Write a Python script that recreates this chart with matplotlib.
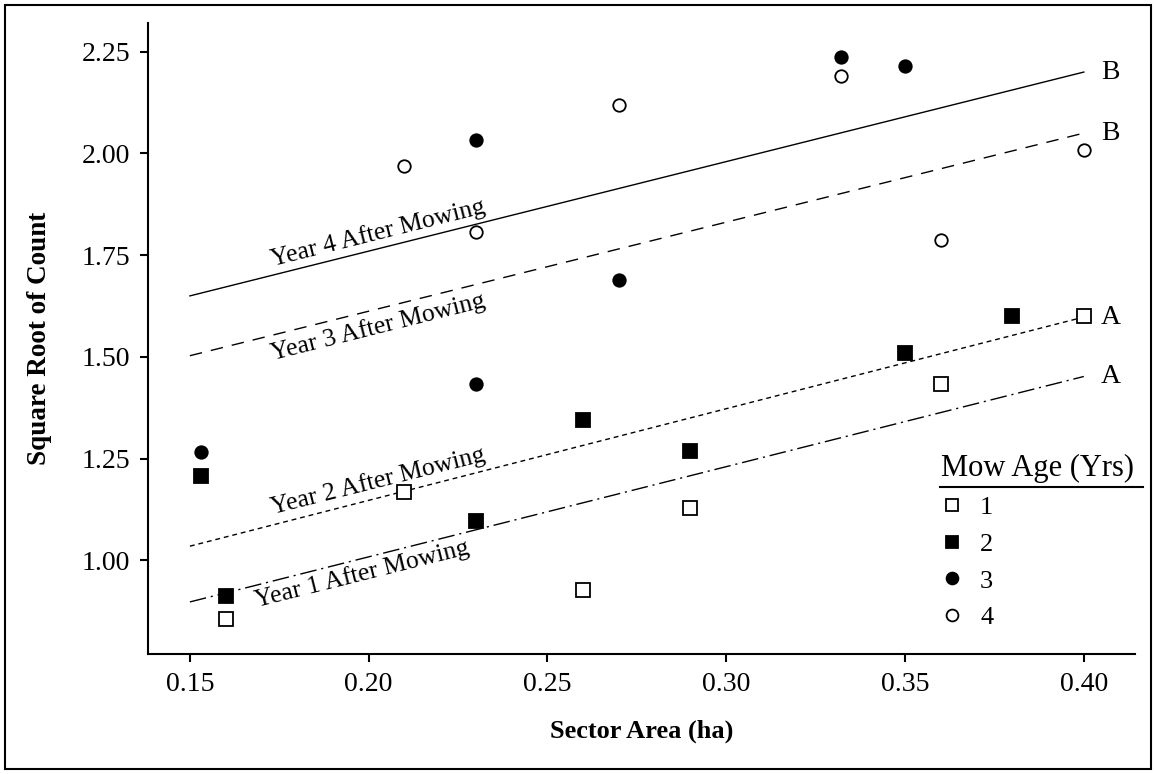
import numpy as np
import matplotlib
matplotlib.use("Agg")
import matplotlib.pyplot as plt
from matplotlib.patches import Rectangle
from matplotlib.lines import Line2D

plt.rcParams['font.family'] = ['Liberation Serif', 'DejaVu Serif']

# data (sector area in ha, sqrt of count)
age1_x = [0.16, 0.21, 0.26, 0.29, 0.36, 0.40]
age1_y = [0.855, 1.168, 0.927, 1.129, 1.434, 1.600]
age2_x = [0.153, 0.16, 0.23, 0.26, 0.29, 0.35, 0.38]
age2_y = [1.208, 0.913, 1.098, 1.345, 1.270, 1.510, 1.600]
age3_x = [0.153, 0.23, 0.23, 0.27, 0.332, 0.35]
age3_y = [1.266, 1.433, 2.033, 1.688, 2.236, 2.215]
age4_x = [0.21, 0.23, 0.27, 0.332, 0.36, 0.40]
age4_y = [1.969, 1.807, 2.118, 2.190, 1.788, 2.008]

# fitted lines (start at 0.15, end at 0.40)
fit_x = [0.15, 0.40]
fit_y4 = [1.650, 2.200]
fit_y3 = [1.503, 2.050]
fit_y2 = [1.035, 1.598]
fit_y1 = [0.898, 1.452]
groups = ['B', 'B', 'A', 'A']
legend_labels = ['1', '2', '3', '4']

fig = plt.figure(figsize=(11.54, 7.74), dpi=100)
ax = fig.add_axes([0.1283, 0.155, 0.8552, 0.815])
ax.set_xlim(0.1383, 0.4143)
ax.set_ylim(0.770, 2.320)

lw = 1.0
ax.plot(fit_x, fit_y4, color='black', lw=lw, linestyle='-')
ax.plot(fit_x, fit_y3, color='black', lw=lw, linestyle=(0, (9, 6.5)))
ax.plot(fit_x, fit_y2, color='black', lw=lw, linestyle=(0, (3.5, 2.8)))
ax.plot(fit_x, fit_y1, color='black', lw=lw, linestyle=(0, (12, 3.5, 1.5, 3.5)))

ms_sq = 9.5
ms_ci = 9
mew = 1.3
ax.plot(age1_x, age1_y, 's', ms=ms_sq, mfc='white', mec='black', mew=mew, zorder=3)
ax.plot(age2_x, age2_y, 's', ms=ms_sq, mfc='black', mec='black', mew=mew, zorder=3)
ax.plot(age3_x, age3_y, 'o', ms=ms_ci, mfc='black', mec='black', mew=mew, zorder=3)
ax.plot(age4_x, age4_y, 'o', ms=ms_ci, mfc='white', mec='black', mew=mew, zorder=3)

# rotation of the fitted lines in screen space
fig.canvas.draw()
p0 = ax.transData.transform((fit_x[0], fit_y4[0]))
p1 = ax.transData.transform((fit_x[1], fit_y4[1]))
ang = np.degrees(np.arctan2(p1[1] - p0[1], p1[0] - p0[0]))

line_labels = [('Year 4 After Mowing', 0.2026, 1.805),
               ('Year 3 After Mowing', 0.2026, 1.574),
               ('Year 2 After Mowing', 0.2026, 1.195),
               ('Year 1 After Mowing', 0.1980, 0.966)]
for txt, tx, ty in line_labels:
    ax.text(tx, ty, txt, rotation=ang, rotation_mode='anchor',
            ha='center', va='center', fontsize=18.5)

for g, yend in zip(groups, [fit_y4[1], fit_y3[1], fit_y2[1], fit_y1[1]]):
    ax.text(0.4048, yend, g, ha='left', va='center', fontsize=20)

ax.set_xticks([0.15, 0.20, 0.25, 0.30, 0.35, 0.40])
ax.set_xticklabels(['0.15', '0.20', '0.25', '0.30', '0.35', '0.40'])
ax.set_yticks([1.00, 1.25, 1.50, 1.75, 2.00, 2.25])
ax.set_yticklabels(['1.00', '1.25', '1.50', '1.75', '2.00', '2.25'])
ax.tick_params(direction='out', length=6, width=1.5, labelsize=20, pad=7)
ax.spines['top'].set_visible(False)
ax.spines['right'].set_visible(False)
ax.spines['left'].set_linewidth(1.5)
ax.spines['bottom'].set_linewidth(1.5)

ax.set_xlabel('Sector Area (ha)', fontsize=19, fontweight='bold', labelpad=16)
ax.set_ylabel('Square Root of Count', fontsize=19.5, fontweight='bold', labelpad=21)

handles = [
    Line2D([], [], marker='s', ls='none', ms=8.5, mfc='white', mec='black', mew=1.3),
    Line2D([], [], marker='s', ls='none', ms=8.5, mfc='black', mec='black', mew=1.3),
    Line2D([], [], marker='o', ls='none', ms=8.5, mfc='black', mec='black', mew=1.3),
    Line2D([], [], marker='o', ls='none', ms=8.5, mfc='white', mec='black', mew=1.3),
]
leg = ax.legend(handles, legend_labels, title='Mow Age (Yrs)', frameon=False,
                loc='upper left', bbox_to_anchor=(0.803, 0.318),
                fontsize=19, title_fontsize=22, handlelength=0.9,
                handletextpad=0.6, labelspacing=0.5, borderpad=0,
                borderaxespad=0)
leg._legend_box.align = 'left'
ax.plot([0.802, 1.008], [0.2647, 0.2647], color='black', lw=1.5,
        transform=ax.transAxes, clip_on=False)

fig.add_artist(Rectangle((0.004, 0.006), 0.993, 0.988, transform=fig.transFigure,
                         fill=False, lw=1.5, edgecolor='black'))

fig.savefig('out.png', dpi=100)
